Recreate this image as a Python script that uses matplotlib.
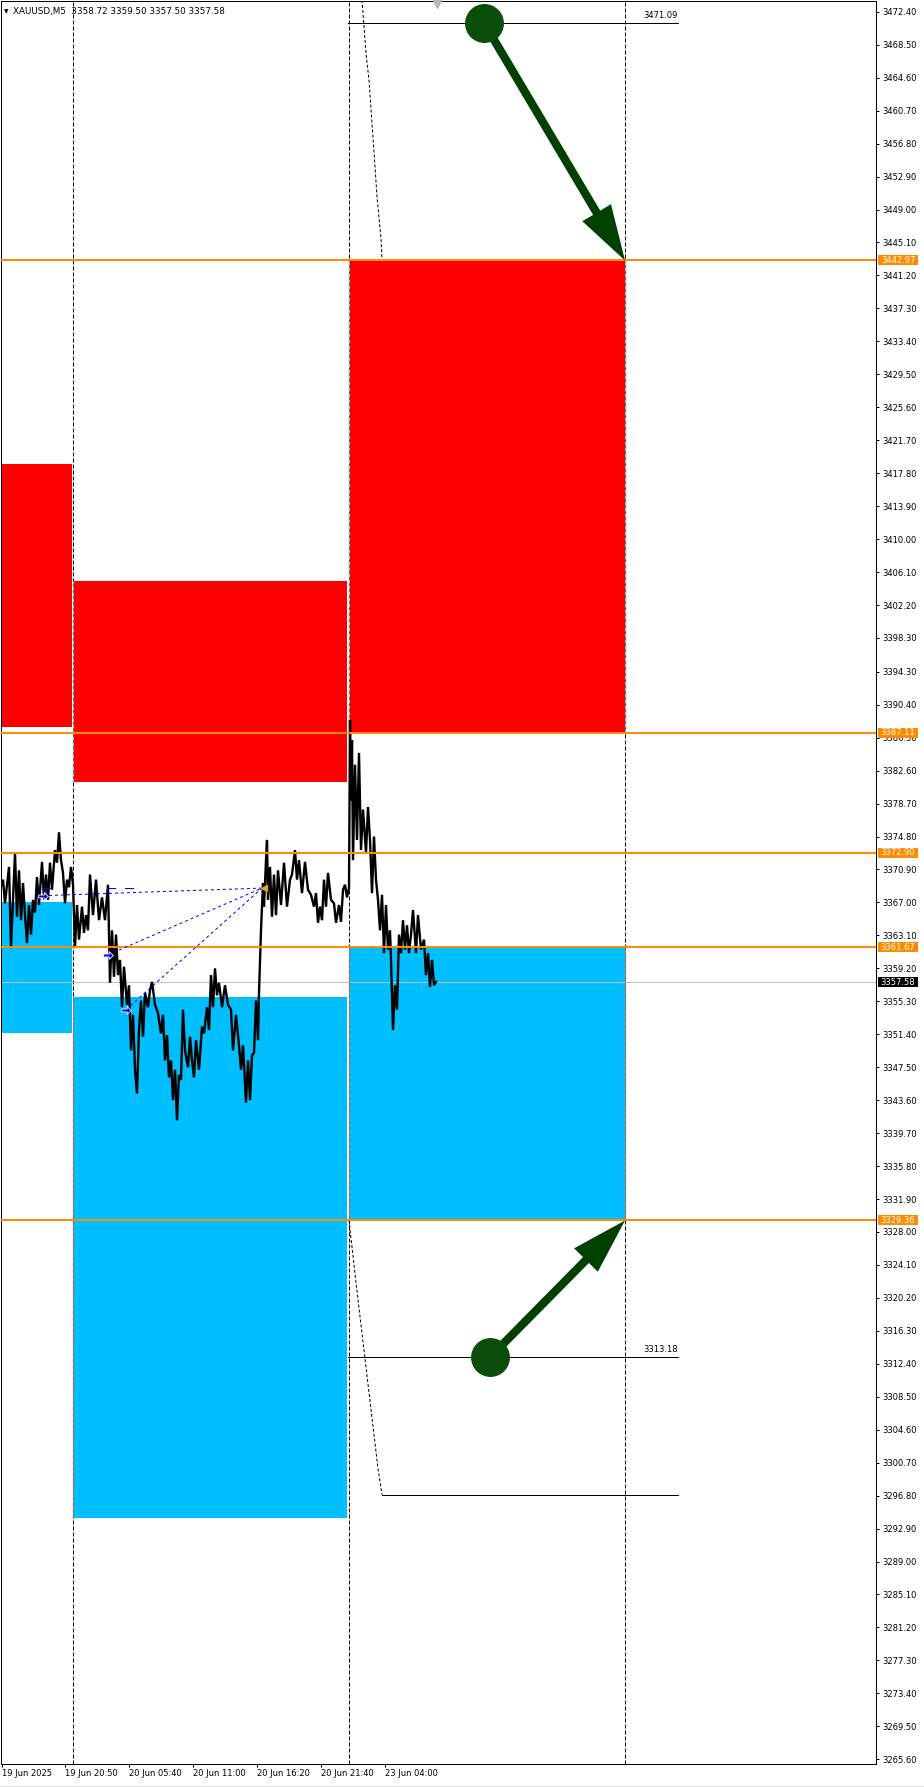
import matplotlib.pyplot as plt
from matplotlib.patches import Rectangle, FancyArrowPatch, ArrowStyle
from matplotlib.path import Path
from matplotlib.lines import Line2D

# ---- data (x = bar index, 1 px per M5 bar) ----
bar_x = [0, 3, 5, 7, 9, 11, 13, 15, 17, 19, 21, 23, 25, 27, 29, 31, 33, 35, 37, 39,
         42, 44, 46, 48, 50, 52, 55, 57, 59, 61, 63, 65, 67, 69, 71, 73, 75, 77, 79,
         82, 84, 86, 88, 90, 93, 96, 99, 102, 105, 108, 110, 112, 114, 116, 118, 120,
         122, 124, 127, 129, 131, 133, 135, 137, 139, 141, 143, 145, 148, 150, 152, 155,
         158, 161, 163, 165, 167, 169, 171, 173, 175, 177, 179, 181, 183, 185, 188, 190,
         192, 194, 196, 199, 202, 204, 207, 209, 211, 213, 215, 217, 219, 222, 225, 228,
         231, 233, 236, 239, 241, 243, 246, 248, 250, 252, 254, 256, 258, 259, 261, 263,
         264, 266, 267, 268, 270, 272, 274, 276, 278, 281, 284, 287, 290, 292, 295, 297,
         299, 302, 305, 308, 311, 314, 316, 318, 320, 322, 324, 326, 328, 331, 334, 336,
         339, 341, 343, 345, 347, 349, 350, 351, 352, 353, 355, 357, 359, 361, 363, 366,
         368, 370, 372, 374, 376, 378, 380, 382, 384, 386, 388, 390, 391, 393, 395, 397,
         399, 401, 403, 405, 407, 409, 411, 413, 416, 418, 421, 424, 426, 428, 430, 432,
         434, 436]
bar_p = [3368.5, 3369.7, 3366.9, 3369.1, 3371.2, 3361.6, 3367.3, 3372.9, 3365.3, 3370.8,
         3364.9, 3369.3, 3365.5, 3362.2, 3366.7, 3363.2, 3367.3, 3365.8, 3370.0, 3366.7,
         3371.8, 3367.3, 3370.3, 3367.3, 3371.7, 3368.5, 3373.2, 3371.7, 3375.3, 3372.0,
         3370.5, 3366.9, 3369.7, 3368.8, 3371.2, 3369.1, 3361.7, 3366.7, 3362.6,
         3366.5, 3363.4, 3365.5, 3363.7, 3370.3, 3365.5, 3369.7, 3364.9, 3367.6, 3364.9,
         3369.1, 3357.5, 3363.7, 3358.2, 3363.2, 3358.4, 3360.2,
         3354.6, 3359.4, 3354.9, 3357.2, 3349.5, 3353.7, 3347.2, 3344.4, 3351.9,
         3355.4, 3351.1, 3356.3, 3354.6, 3356.6, 3357.6, 3354.9,
         3353.9, 3351.5, 3353.7, 3348.3, 3351.3, 3346.3, 3348.3, 3343.6, 3347.2, 3341.2,
         3346.6, 3346.0, 3354.3, 3349.5, 3347.5, 3351.1,
         3348.3, 3346.3, 3350.7, 3347.2, 3352.3, 3351.5, 3354.6, 3351.9, 3358.4, 3354.6,
         3359.2, 3356.0, 3357.5, 3354.6, 3357.2, 3354.9,
         3354.3, 3349.5, 3353.7, 3350.1, 3347.2, 3350.1, 3343.3, 3348.3, 3343.6, 3348.9,
         3349.2, 3355.4, 3350.7, 3356.3, 3363.7, 3369.3,
         3366.5, 3372.0, 3374.4, 3367.3, 3371.2, 3365.3, 3370.3, 3365.5, 3370.8, 3366.7,
         3371.7, 3366.5, 3369.7, 3370.3, 3373.2, 3369.7,
         3372.0, 3368.1, 3371.8, 3368.5, 3367.9, 3366.5, 3368.1, 3364.6, 3366.5, 3364.9,
         3369.7, 3366.5, 3370.5, 3367.3, 3366.9, 3364.6,
         3366.7, 3364.7, 3368.5, 3369.1, 3367.6, 3368.7, 3388.6, 3379.1, 3386.2, 3372.0,
         3383.3, 3374.4, 3384.7, 3373.2, 3378.0, 3372.9,
         3378.3, 3374.4, 3368.1, 3374.8, 3369.7, 3367.3, 3363.7, 3367.9, 3361.0, 3366.7,
         3361.4, 3363.7, 3360.2, 3351.9, 3357.2, 3354.3,
         3363.2, 3361.0, 3364.9, 3361.4, 3364.3, 3361.0, 3363.2, 3366.1, 3361.0, 3365.5,
         3361.4, 3362.6, 3358.4, 3361.0, 3357.0, 3360.2,
         3357.2, 3357.6]

zone_x0 = [0, 73, 349, 0, 73, 349]
zone_x1 = [72, 347, 625, 72, 347, 625]
zone_top = [3418.9, 3405.0, 3442.97, 3367.0, 3355.85, 3361.67]
zone_bot = [3387.8, 3381.2, 3387.11, 3351.6, 3294.1, 3329.36]
zone_col = ['#FF0000', '#FF0000', '#FF0000', '#00BFFF', '#00BFFF', '#00BFFF']
zone_inv = ['#00FFFF', '#00FFFF', '#00FFFF', '#FF4000', '#FF4000', '#FF4000']

levels = [3442.97, 3387.11, 3372.90, 3361.67, 3329.36]
bid = 3357.58
vlines_x = [73, 349, 625]

seg_p = [3471.09, 3443.1, 3329.5, 3313.18, 3296.9]
seg_x0 = [348, 382, 349, 348, 382]
seg_x1 = [678, 678, 678, 678, 678]
seg_labels = ['3471.09', '', '', '3313.18', '']

curve_top_x = [362, 366, 369, 372, 375, 377, 381, 382]
curve_top_p = [3473.8, 3467.5, 3464.3, 3459.2, 3454.1, 3450.5, 3445.6, 3443.1]
curve_bot_x = [349, 356, 364, 372, 378, 382]
curve_bot_p = [3329.4, 3322.0, 3314.0, 3306.0, 3300.0, 3296.9]

arrow_x0 = [484, 490]
arrow_p0 = [3471.09, 3313.18]
arrow_x1 = [625, 625]
arrow_p1 = [3442.97, 3329.36]

entry_x = [43, 108, 126]
entry_p = [3367.8, 3360.8, 3354.3]
exit_x = 264
exit_p = 3368.7

yticks = ['3472.40', '3468.50', '3464.60', '3460.70', '3456.80', '3452.90', '3449.00',
          '3445.10', '3441.20', '3437.30', '3433.40', '3429.50', '3425.60', '3421.70',
          '3417.80', '3413.90', '3410.00', '3406.10', '3402.20', '3398.30', '3394.30',
          '3390.40', '3386.50', '3382.60', '3378.70', '3374.80', '3370.90', '3367.00',
          '3363.10', '3359.20', '3355.30', '3351.40', '3347.50', '3343.60', '3339.70',
          '3335.80', '3331.90', '3328.00', '3324.10', '3320.20', '3316.30', '3312.40',
          '3308.50', '3304.60', '3300.70', '3296.80', '3292.90', '3289.00', '3285.10',
          '3281.20', '3277.30', '3273.40', '3269.50', '3265.60']
xtick_pos = [2, 65, 129, 193, 257, 321, 385]
xtick_lab = ['19 Jun 2025', '19 Jun 20:50', '20 Jun 05:40', '20 Jun 11:00',
             '20 Jun 16:20', '20 Jun 21:40', '23 Jun 04:00']

# ---- figure ----
W, H = 924, 1787
fig = plt.figure(figsize=(W / 100, H / 100), dpi=100)
ax = fig.add_axes([0.5 / W, 23 / H, 875.5 / W, 1763 / H])
ax.set_xlim(0.5, 876)
ax.set_ylim(3265.04, 3473.68)
FS = 6.0
PX = 0.72  # one pixel in points

for s in ax.spines.values():
    s.set_linewidth(PX)
    s.set_color('black')

# zones
for x0, x1, t, b, c in zip(zone_x0, zone_x1, zone_top, zone_bot, zone_col):
    ax.add_patch(Rectangle((x0, b), x1 - x0, t - b, facecolor=c, lw=0, zorder=1))

# vertical dotted lines (inverted colour where they cross a zone)
for vx in vlines_x:
    ax.axvline(vx, color='black', lw=PX, dashes=(4, 2), zorder=2)
    for x0, x1, t, b, c, ic in zip(zone_x0, zone_x1, zone_top, zone_bot, zone_col, zone_inv):
        if x0 <= vx <= x1:
            ax.plot([vx, vx], [b, t], color=c, lw=PX * 1.2, zorder=2.1)
            ax.plot([vx, vx], [b, t], color=ic, lw=PX, dashes=(4, 2), zorder=2.2)

# bid line
ax.axhline(bid, color='#C0C0C0', lw=PX, zorder=2)

# thin black object lines + their labels
for p, x0, x1, lab in zip(seg_p, seg_x0, seg_x1, seg_labels):
    ax.plot([x0, x1], [p, p], color='black', lw=PX, zorder=2.5)
    if lab:
        ax.text(x1, p + 0.35, lab, ha='right', va='bottom', fontsize=FS, zorder=6)

ax.plot(curve_top_x, curve_top_p, color='black', lw=PX, dashes=(3, 2), zorder=2.5)
ax.plot(curve_bot_x, curve_bot_p, color='black', lw=PX, dashes=(3, 2), zorder=2.5)

# price
ax.plot(bar_x, bar_p, color='black', lw=1.7, solid_joinstyle='miter', zorder=3)

# orange levels
for lv in levels:
    ax.axhline(lv, color='#FF8C00', lw=2 * PX, zorder=4)

# trade history lines
for ex, ep in zip(entry_x, entry_p):
    ax.plot([ex, exit_x - 2], [ep, exit_p], color='#0000FF', lw=PX, dashes=(3, 3), zorder=5)
    ax.plot([ex - 1, ex + 7], [exit_p, exit_p], color='#0000FF', lw=PX, zorder=5)
arrow_marker = Path([(-1, -0.3), (0.15, -0.3), (0.15, -0.8), (1, 0), (0.15, 0.8),
                     (0.15, 0.3), (-1, 0.3), (-1, -0.3)])
ax.plot(entry_x, entry_p, ls='none', marker=arrow_marker, ms=7, mfc='#0000FF',
        mec='white', mew=0.6, zorder=6)
ax.plot([exit_x], [exit_p], ls='none', marker='<', ms=5, mfc='#E0A040', mec='#E0A040', zorder=6)

# green arrows
for xa, pa, xb, pb in zip(arrow_x0, arrow_p0, arrow_x1, arrow_p1):
    ax.add_patch(FancyArrowPatch((xa, pa), (xb, pb),
                                 arrowstyle=ArrowStyle.Simple(head_length=40, head_width=24,
                                                              tail_width=6.0),
                                 mutation_scale=1, shrinkA=0, shrinkB=0,
                                 fc='#004000', ec='none', zorder=7))
    ax.plot([xa], [pa], marker='o', ms=27, mfc='#0B4D0B', mec='#0B4D0B', zorder=7.5)

# chart shift marker
ax.plot([437], [1 - 3 / 1763], marker='v', ms=6, color='#B8B8B8',
        transform=ax.get_xaxis_transform(), clip_on=False, zorder=8)

# axes ticks
ax.yaxis.tick_right()
ax.set_yticks([float(v) for v in yticks])
ax.set_yticklabels(yticks)
ax.tick_params(axis='y', length=2.2, width=PX, pad=2.0, labelsize=FS, direction='out')
ax.set_xticks(xtick_pos)
ax.set_xticklabels(xtick_lab, ha='left')
ax.tick_params(axis='x', length=2.2, width=PX, pad=1.6, labelsize=FS, direction='out')

# price labels on the right scale
trans = ax.get_yaxis_transform()
xc = (898 - 0.5) / 875.5
box = Path([(-2, -0.5), (2, -0.5), (2, 0.5), (-2, 0.5), (-2, -0.5)])
for lv, bg in [(l, '#FF8C00') for l in levels] + [(bid, 'black')]:
    ax.plot([xc], [lv], marker=box, ms=29, mfc=bg, mec=bg, mew=0,
            transform=trans, clip_on=False, zorder=10)
    ax.text(xc, lv, f'{lv:.2f}', transform=trans, ha='center', va='center',
            color='white', fontsize=FS, zorder=11, clip_on=False)

# header
fig.text(4 / W, 1 - 11.5 / H, '\u25BC', fontsize=4.2, va='center')
fig.text(13 / W, 1 - 11.5 / H, 'XAUUSD,M5  3358.72 3359.50 3357.50 3357.58',
         fontsize=6.3, va='center')

fig.add_artist(Line2D([0, 1], [1.5 / H, 1.5 / H], color='#DDDDDD', lw=PX))

fig.savefig('out.png', dpi=100, facecolor='white')
